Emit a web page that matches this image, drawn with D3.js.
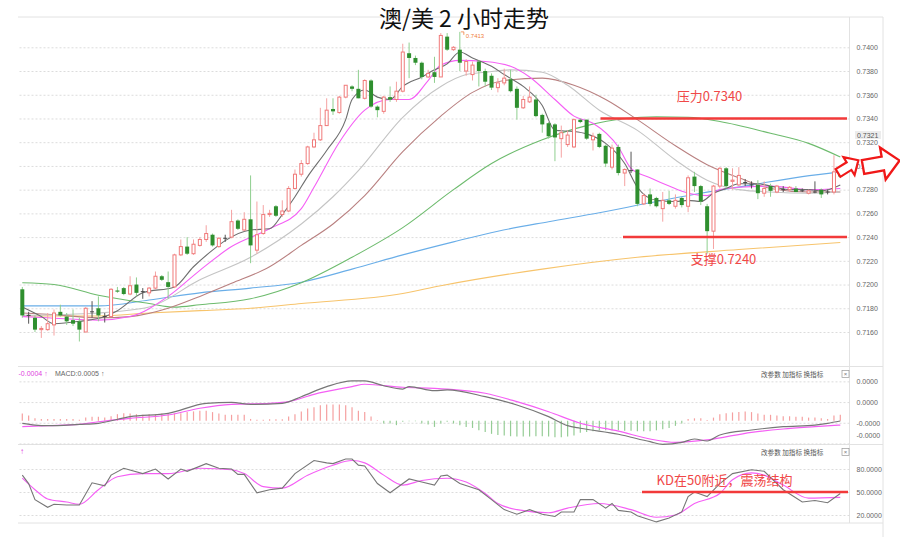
<!DOCTYPE html>
<html><head><meta charset="utf-8">
<script src="https://cdn.jsdelivr.net/npm/d3@7"></script>
<style>body{margin:0;background:#fff}svg{display:block}</style>
</head><body><svg id="c" width="900" height="537"></svg>
<script>
// ---------- DATA ----------
const opens = [.7196,.7174,.7172,.7162,.7162,.7166,.7177,.7173,.7170,.7169,
.7160,.7177,.7180,.7173,.7173,.7195,.7197,.7192,.7200,.7194,
.7193,.7197,.7207,.7202,.7198,.7225,.7232,.7226,.7233,.7238,
.7242,.7232,.7239,.7240,.7254,.7246,.7255,.7229,.7243,.7259,
.7266,.7259,.7262,.7281,.7293,.7302,.7316,.7322,.7334,.7348,
.7345,.7358,.7367,.7365,.7357,.7372,.7350,.7346,.7358,.7356,
.7363,.7395,.7391,.7387,.7375,.7379,.7375,.7409,.7398,.7398,
.7380,.7377,.7388,.7380,.7376,.7366,.7370,.7373,.7365,.7349,
.7354,.7356,.7343,.7336,.7335,.7323,.7318,.7316,.7339,.7339,
.7322,.7327,.7317,.7299,.7316,.7294,.7296,.7297,.7268,.7276,
.7273,.7264,.7271,.7266,.7273,.7266,.7291,.7283,.7266,.7245,
.7283,.7298,.7287,.7284,.7286,.7284,.7284,.7277,.7283,.7278,
.7280,.7280,.7281,.7279,.7277,.7278,.7280,.7278,.7278,.7295];
const highs = [.7198,.7177,.7174,.7165,.7176,.7179,.7183,.7176,.7179,.7172,
.7181,.7186,.7190,.7176,.7197,.7198,.7198,.7207,.7206,.7197,
.7198,.7211,.7208,.7211,.7226,.7238,.7240,.7238,.7240,.7250,
.7243,.7240,.7242,.7263,.7255,.7261,.7292,.7270,.7267,.7263,
.7267,.7271,.7283,.7297,.7305,.7317,.7328,.7349,.7357,.7357,
.7359,.7368,.7368,.7381,.7373,.7373,.7351,.7359,.7367,.7371,
.7403,.7404,.7393,.7388,.7381,.7392,.7412,.7412,.7401,.7413,
.7390,.7388,.7389,.7382,.7378,.7374,.7382,.7381,.7367,.7359,
.7367,.7360,.7344,.7337,.7336,.7334,.7330,.7340,.7340,.7339,
.7328,.7328,.7318,.7318,.7318,.7298,.7312,.7297,.7277,.7281,
.7274,.7278,.7279,.7276,.7274,.7292,.7295,.7284,.7268,.7284,
.7299,.7299,.7298,.7299,.7289,.7287,.7288,.7287,.7285,.7284,
.7283,.7283,.7283,.7281,.7280,.7287,.7281,.7280,.7309,.7297];
const lows = [.7172,.7167,.7160,.7155,.7161,.7157,.7173,.7166,.7165,.7152,
.7160,.7172,.7169,.7168,.7173,.7193,.7191,.7191,.7190,.7188,
.7190,.7196,.7203,.7188,.7197,.7224,.7225,.7225,.7232,.7236,
.7232,.7231,.7236,.7239,.7246,.7245,.7218,.7226,.7242,.7257,
.7257,.7257,.7261,.7280,.7291,.7301,.7315,.7321,.7334,.7343,
.7344,.7357,.7363,.7357,.7356,.7349,.7341,.7344,.7354,.7354,
.7362,.7374,.7385,.7373,.7374,.7370,.7375,.7397,.7397,.7380,
.7376,.7372,.7367,.7367,.7364,.7362,.7368,.7362,.7339,.7348,
.7353,.7341,.7328,.7323,.7304,.7307,.7316,.7315,.7336,.7322,
.7313,.7315,.7299,.7297,.7292,.7283,.7294,.7266,.7267,.7266,
.7265,.7253,.7267,.7264,.7265,.7261,.7278,.7267,.7226,.7230,
.7281,.7281,.7280,.7283,.7283,.7281,.7272,.7274,.7274,.7277,
.7278,.7278,.7278,.7278,.7276,.7277,.7273,.7276,.7276,.7290];
const closes = [.7174,.7174,.7162,.7163,.7167,.7176,.7174,.7169,.7167,.7162,
.7180,.7177,.7174,.7173,.7196,.7194,.7192,.7199,.7193,.7194,
.7197,.7207,.7204,.7198,.7225,.7232,.7226,.7234,.7238,.7243,
.7233,.7239,.7239,.7253,.7247,.7255,.7233,.7242,.7259,.7260,
.7258,.7262,.7281,.7293,.7302,.7316,.7322,.7334,.7347,.7346,
.7358,.7368,.7365,.7357,.7372,.7350,.7347,.7358,.7356,.7363,
.7396,.7391,.7387,.7375,.7378,.7375,.7410,.7398,.7400,.7387,
.7388,.7385,.7380,.7371,.7366,.7370,.7374,.7363,.7349,.7356,
.7358,.7342,.7335,.7325,.7324,.7328,.7326,.7339,.7337,.7323,
.7325,.7316,.7302,.7315,.7294,.7297,.7296,.7268,.7275,.7268,
.7266,.7271,.7268,.7271,.7267,.7290,.7283,.7270,.7245,.7283,
.7298,.7283,.7288,.7292,.7286,.7284,.7277,.7281,.7279,.7283,
.7280,.7282,.7278,.7279,.7279,.7278,.7276,.7278,.7295,.7291];

// moving averages: [candle index, price]
const ma5 = [[0,.7181],[3,.7173],[5,.7167],[9,.7169],[13,.7173],[15,.7178],[19,.7193],[24,.7198],[27,.7215],[30,.7229],[32,.7237],[36,.7246],[39,.7247],[41,.7259],[43,.7274],[45,.7291],[48,.7313],[51,.7339],[52,.7356],[54,.7364],[56,.7358],[58,.7356],[60,.7367],[63,.7375],[65,.7381],[67,.7386],[69,.7396],[71,.7391],[74,.7384],[76,.7377],[79,.7367],[82,.7351],[84,.7330],[87,.7329],[89,.7327],[92,.7319],[95,.7302],[97,.7282],[100,.7271],[103,.7270],[105,.7271],[107,.7270],[109,.7277],[111,.7281],[113,.7285],[116,.7285],[118,.7283],[121,.7280],[124,.7280],[126,.7279],[129,.7284]];
const ma10 = [[0,.7173],[4,.7172],[12,.7170],[17,.7173],[23,.7190],[28,.7212],[33,.7232],[39,.7247],[44,.7264],[46,.7282],[50,.7320],[54,.7347],[58,.7356],[61,.7356],[64,.7372],[66,.7385],[69,.7389],[73,.7388],[77,.7384],[80,.7375],[84,.7356],[87,.7342],[90,.7336],[94,.7316],[96,.7298],[99,.7290],[102,.7283],[105,.7277],[108,.7275],[110,.7280],[113,.7282],[118,.7283],[124,.7280],[129,.7281]];
const ma20 = [[0,.7174],[12,.7176],[20,.7181],[28,.7204],[36,.7223],[44,.7251],[49,.7274],[53,.7296],[60,.7341],[66,.7367],[70,.7377],[73,.7379],[77,.7381],[82,.7379],[86,.7368],[91,.7347],[97,.7330],[103,.7305],[108,.7288],[113,.7280],[118,.7278],[124,.7277],[129,.7278]];
const ma30 = [[0,.7176],[4,.7175],[12,.7172],[17,.7173],[23,.7180],[28,.7190],[33,.7201],[39,.7215],[44,.7233],[49,.7251],[54,.7275],[60,.7312],[66,.7342],[71,.7362],[76,.7372],[82,.7374],[87,.7368],[92,.7356],[97,.7339],[103,.7317],[108,.7301],[113,.7290],[118,.7281],[124,.7278],[129,.7278]];
const ma60 = [[0,.72015],[5,.7200],[12,.7191],[20,.7184],[24,.7181],[28,.7183],[36,.7188],[44,.72015],[52,.7223],[60,.7248],[68,.7280],[74,.7302],[82,.7322],[89,.7334],[95,.7340],[100,.73415],[105,.7341],[110,.73375],[118,.73275],[124,.7319],[129,.73075]];
const ma120 = [[0,.7182],[12,.7182],[20,.7187],[28,.7193],[36,.7197],[44,.7202],[52,.7213],[60,.7225],[68,.7236],[75,.7245],[83,.7253],[91,.72605],[99,.7269],[107,.7277],[115,.7284],[123,.7291],[129,.7295]];
const ma250 = [[0,.71735],[12,.71735],[20,.7176],[28,.7178],[36,.7180],[44,.7184],[60,.71925],[66,.7199],[82,.7213],[97,.7223],[113,.72295],[129,.72355]];

const priceTicks = [.7160,.7180,.7200,.7220,.7240,.7260,.7280,.7300,.7320,.7340,.7360,.7380,.7400];

// MACD (units of 1e-6)
const macdHist = [7,5,2.3,1.7,1.7,1.7,1.7,1.7,1.7,1,3,3.7,3.7,3,4.3,6.3,7.3,7,6.3,5.7,
6.3,6.3,7,7,7,7.3,8.3,9,9.7,9.7,8.3,7,5.7,5.7,5.7,5.7,1.7,1,1,1.3,
1.3,1.3,4,6.3,9,11.7,13,15,15.7,15.7,15.7,15,13,9.7,8.3,4,0.5,-2.7,-2.7,-4.3,
-1,-0.5,-0.5,-2.7,-3.7,-6,-2.7,-1,-2.7,-4.3,-6,-7,-9.3,-11,-12.7,-13.7,-14.3,-15,-15.3,-15.3,
-15.3,-15,-15,-15.3,-16,-16,-15.3,-14.3,-11.7,-11,-10.3,-9.3,-9.3,-9.3,-9.3,-9.7,-9.7,-10.3,-10.3,-10.3,
-9.3,-8.3,-7,-5,-2.7,1.7,2.3,2.3,0.7,3,6.3,7.3,8,8.3,9,8.3,7,5.7,5.7,5,
4.3,4.3,3.7,3.7,3,3,2.3,1.7,5,5.7];
const macdDif = [[0,-2.5],[2,-4.2],[4,-4.8],[9,-3.5],[12,-2.5],[17,3.9],[23,7.1],[29,16.8],[33,17.8],[36,15.8],[41,16.8],[44,23.2],[48,32.9],[52,38.4],[54,38.4],[57,33.8],[60,30.6],[61,32.9],[65,29],[67,29.7],[73,23.2],[78,15.2],[83,3.9],[86,-4.8],[88,-7.3],[94,-13.1],[99,-20.3],[101,-22.8],[104,-20.9],[106,-17.7],[108,-19.6],[110,-13.8],[115,-9],[120,-5.8],[125,-4.2],[127,-2.5],[129,-0.3]];
const macdDea = [[0,-5.8],[4,-4.8],[9,-3.5],[12,-1],[17,2.3],[23,5.5],[28,12],[33,15.8],[39,16.8],[42,18.4],[46,25.5],[52,32.9],[54,35.2],[60,32.3],[65,31.3],[67,30.6],[73,26.5],[78,18.4],[83,8.7],[88,-2.5],[94,-10],[99,-17.7],[103,-20.9],[108,-18.6],[115,-11.2],[120,-8],[125,-5.8],[129,-4.2]];
const macdTicks = [38,18,-2,-22];
const macdTickLabels = ["0.0000","0.0000","-0.0000","-0.0000"];

// KD
const kdK = [[0,72],[1,61],[2,40],[4,30],[5,34],[7,33],[9,33],[11,62],[13,58],[14,72],[16,81],[19,74],[21,80],[23,67],[25,80],[26,77],[29,87],[31,81],[33,80],[34,73],[35,73],[37,49],[39,53],[41,55],[43,74],[46,91],[48,88],[49,87],[51,93],[52,93],[53,85],[54,84],[56,61],[58,49],[61,67],[63,63],[65,59],[66,71],[67,72],[69,61],[72,53],[74,40],[76,27],[78,21],[80,27],[82,21],[84,18],[85,24],[87,24],[88,40],[90,40],[92,29],[93,35],[94,26],[96,24],[97,19],[100,11],[102,16],[104,24],[105,44],[106,50],[108,44],[110,61],[112,74],[115,79],[117,77],[120,53],[123,37],[125,39],[127,36],[129,48]];
const kdD = [[0,68],[2,53],[4,41],[7,37],[9,34],[12,53],[15,70],[19,74],[23,74],[28,81],[33,79],[35,74],[38,57],[41,55],[45,72],[49,85],[52,91],[54,88],[57,72],[60,59],[63,65],[67,68],[70,63],[73,48],[75,35],[78,27],[83,23],[86,29],[91,35],[96,27],[100,17],[103,20],[106,35],[110,48],[112,66],[115,75],[117,72],[120,59],[124,42],[129,43]];
const kdTicks = [80,50,20];

const resistance = 0.7340, support = 0.7240, peakPrice = 0.7413, lastLabel = 0.7321, kdLevel = 50;

// ---------- DRAW ----------
const svg = d3.select("#c");
svg.append("rect").attr("width",900).attr("height",537).attr("fill","#fff");
const n = opens.length;
const x = d3.scaleLinear().domain([0, n-1]).range([22.3, 840.3]);
const y = d3.scaleLinear().domain([0.7160, 0.7400]).range([332, 47.3]);
const yM = d3.scaleLinear().domain([0, 40]).range([420.7, 379.3]);
const yK = d3.scaleLinear().domain([20, 80]).range([515, 469]);
const L = 18, R = 849.5, AX = 857;
const axisFont = "Liberation Sans, Arial, sans-serif";

// frame lines
const frame = svg.append("g").attr("stroke","#e2e2e2").attr("stroke-width",1);
[[L,17,883,17],[L,366.5,883,366.5],[L,444.5,883,444.5],[L,523,883,523],[R,17,R,523],[883,17,883,537]]
  .forEach(d=>frame.append("line").attr("x1",d[0]).attr("y1",d[1]).attr("x2",d[2]).attr("y2",d[3]));

// price grid + labels (axis)
const gy = svg.append("g").attr("transform",`translate(${R},0)`)
  .call(d3.axisRight(y).tickValues(priceTicks).tickFormat(d3.format(".4f")).tickSize(-(R-L)).tickPadding(7));
gy.select(".domain").remove();
gy.selectAll(".tick line").attr("stroke","#dcdcdc").attr("stroke-dasharray","2,2");
gy.selectAll(".tick text").attr("fill","#666").attr("font-size",7).attr("font-family",axisFont);

// MACD grid
const gm = svg.append("g").attr("transform",`translate(${R},0)`)
  .call(d3.axisRight(yM).tickValues(macdTicks).tickFormat((d,i)=>macdTickLabels[i]).tickSize(-(R-L)).tickPadding(7));
gm.select(".domain").remove();
gm.selectAll(".tick line").attr("stroke","#dcdcdc").attr("stroke-dasharray","2,2");
gm.selectAll(".tick text").attr("fill","#666").attr("font-size",7).attr("font-family",axisFont)
  .attr("dy",(d)=> yM(d)>440 ? "-0.9em" : "0.32em");

// KD grid
const gk = svg.append("g").attr("transform",`translate(${R},0)`)
  .call(d3.axisRight(yK).tickValues(kdTicks).tickFormat(d3.format(".4f")).tickSize(-(R-L)).tickPadding(7));
gk.select(".domain").remove();
gk.selectAll(".tick line").attr("stroke","#dcdcdc").attr("stroke-dasharray","2,2");
gk.selectAll(".tick text").attr("fill","#666").attr("font-size",7).attr("font-family",axisFont);

// MA lines
const maLine = d3.line().x(d=>x(d[0])).y(d=>y(d[1])).curve(d3.curveMonotoneX);
[[ma250,"#f7c46c"],[ma120,"#6aaee8"],[ma60,"#6dbb6d"],[ma30,"#b98080"],[ma20,"#c4c4c4"],[ma10,"#f55ff5"],[ma5,"#6e6e6e"]]
 .forEach(([d,c])=>svg.append("path").attr("d",maLine(d)).attr("fill","none").attr("stroke",c).attr("stroke-width",1.1));

// candles
const idx = d3.range(n);
const bw = 4;
const cg = svg.append("g");
idx.forEach(i=>{
  const o=opens[i], c=closes[i], up=c>o, doji=Math.abs(c-o)<0.00005;
  const wickC = doji ? "#555" : (up ? "#f5a3a3" : "#8fcf8f");
  cg.append("line").attr("x1",x(i)).attr("x2",x(i)).attr("y1",y(highs[i])).attr("y2",y(lows[i]))
    .attr("stroke",wickC).attr("stroke-width",1);
  if (doji) {
    cg.append("line").attr("x1",x(i)-bw/2).attr("x2",x(i)+bw/2).attr("y1",y(c)).attr("y2",y(c)).attr("stroke","#444");
  } else if (up) {
    cg.append("rect").attr("x",x(i)-bw/2+0.5).attr("y",y(c)).attr("width",bw-1).attr("height",Math.max(1,y(o)-y(c)))
      .attr("fill","#fff").attr("stroke","#f07a7a").attr("stroke-width",1);
  } else {
    cg.append("rect").attr("x",x(i)-bw/2).attr("y",y(o)).attr("width",bw).attr("height",Math.max(1,y(c)-y(o)))
      .attr("fill","#2f8f2f");
  }
});

// peak annotation
const pk = highs.indexOf(peakPrice);
svg.append("path").attr("d",`M${x(pk)+1},${y(peakPrice)} L${x(pk)+4},${y(peakPrice)} L${x(pk)+4},${y(peakPrice)+3}`)
  .attr("fill","none").attr("stroke","#f08040").attr("stroke-width",0.8);
svg.append("text").attr("x",x(pk)+6).attr("y",y(peakPrice)+6).text("0.7413")
  .attr("font-size",6).attr("fill","#f08040").attr("font-family",axisFont);

// last-price label box
svg.append("rect").attr("x",855).attr("y",y(lastLabel)-10).attr("width",26).attr("height",8).attr("fill","#ececec");
svg.append("text").attr("x",AX).attr("y",y(lastLabel)-3.5).text("0.7321").attr("font-size",7).attr("fill","#555").attr("font-family",axisFont);

// resistance / support
const red = "#f23a3a";
svg.append("line").attr("x1",600.5).attr("x2",847).attr("y1",y(resistance)).attr("y2",y(resistance)).attr("stroke",red).attr("stroke-width",2.5);
svg.append("line").attr("x1",623).attr("x2",847).attr("y1",y(support)).attr("y2",y(support)).attr("stroke",red).attr("stroke-width",2.5);
const cjk = "'Noto Sans CJK SC', 'Noto Sans', sans-serif";
svg.append("text").attr("x",709.5).attr("y",y(resistance)-17).attr("text-anchor","middle").attr("font-size",13)
  .attr("font-family",cjk).attr("fill","#f04848").text("压力0.7340");
svg.append("text").attr("x",723.5).attr("y",y(support)+27).attr("text-anchor","middle").attr("font-size",13)
  .attr("font-family",cjk).attr("fill","#f04848").text("支撑0.7240");

// arrows
const arrowPts = [[0,-4.5],[13,-4.5],[13,-10.5],[24,0],[13,10.5],[13,4.5],[0,4.5]];
svg.append("polygon").attr("points",arrowPts.map(p=>p.join(",")).join(" "))
  .attr("transform","translate(838,173) rotate(-32)").attr("fill","#fff").attr("stroke","#f01818").attr("stroke-width",2.2);
svg.append("polygon").attr("points",arrowPts.map(p=>p.join(",")).join(" "))
  .attr("transform","translate(863,167) rotate(-10) scale(1.55)").attr("fill","#fff").attr("stroke","#f01818").attr("stroke-width",1.5);

// MACD
const hg = svg.append("g");
idx.forEach(i=>{
  const v = macdHist[i];
  hg.append("line").attr("x1",x(i)).attr("x2",x(i)).attr("y1",yM(0)).attr("y2",yM(v))
    .attr("stroke", v>=0 ? "#f5a0a0" : "#95cc95").attr("stroke-width",1.2);
});
const mLine = d3.line().x(d=>x(d[0])).y(d=>yM(d[1])).curve(d3.curveMonotoneX);
svg.append("path").attr("d",mLine(macdDea)).attr("fill","none").attr("stroke","#f55ff5").attr("stroke-width",1.2);
svg.append("path").attr("d",mLine(macdDif)).attr("fill","none").attr("stroke","#777").attr("stroke-width",1.2);

// KD
svg.append("path").attr("d",d3.line().x(d=>x(d[0])).y(d=>yK(d[1])).curve(d3.curveMonotoneX)(kdD)).attr("fill","none").attr("stroke","#f55ff5").attr("stroke-width",1.1);
svg.append("path").attr("d",d3.line().x(d=>x(d[0])).y(d=>yK(d[1]))(kdK)).attr("fill","none").attr("stroke","#777").attr("stroke-width",1.1);
svg.append("line").attr("x1",642).attr("x2",848).attr("y1",yK(kdLevel)).attr("y2",yK(kdLevel)).attr("stroke",red).attr("stroke-width",2.5);
svg.append("text").attr("x",724.5).attr("y",yK(kdLevel)-7).attr("text-anchor","middle").attr("font-size",13)
  .attr("font-family",cjk).attr("fill","#f04848").text("KD在50附近，震荡结构");

// panel headers
svg.append("text").attr("x",18.5).attr("y",376).attr("font-size",7).attr("font-family",axisFont).attr("fill","#e040e0").text("-0.0004 ↑");
svg.append("text").attr("x",55).attr("y",376).attr("font-size",7).attr("font-family",axisFont).attr("fill","#666").text("MACD:0.0005 ↑");
svg.append("text").attr("x",20).attr("y",454).attr("font-size",8).attr("font-family",axisFont).attr("fill","#e040e0").text("↑");
[376.5, 454.5].forEach(yy=>{
  svg.append("text").attr("x",761).attr("y",yy).attr("font-size",6.6).attr("font-family",cjk).attr("fill","#555").text("改参数  加指标  换指标");
  svg.append("rect").attr("x",842).attr("y",yy-6).attr("width",7).attr("height",7).attr("fill","#fff").attr("stroke","#999").attr("stroke-width",0.7);
  svg.append("text").attr("x",845.5).attr("y",yy-0.3).attr("text-anchor","middle").attr("font-size",6).attr("font-family",axisFont).attr("fill","#777").text("×");
});

// title
svg.append("text").attr("x",464).attr("y",27).attr("text-anchor","middle").attr("font-size",23)
  .attr("font-family",cjk).attr("fill","#111").text("澳/美 2 小时走势");
</script></body></html>
